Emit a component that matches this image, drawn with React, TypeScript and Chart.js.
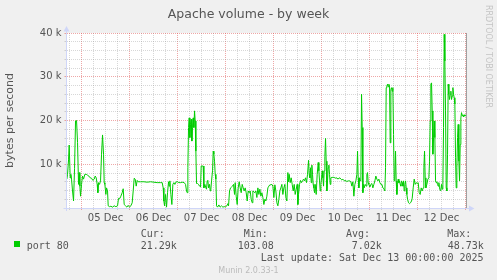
import React, { useEffect, useRef } from 'react';
import { Chart, registerables } from 'chart.js';

Chart.register(...registerables);

const chartTitle = 'Apache volume - by week';
const yAxisTitle = 'bytes per second';
const dayLabels = ['05 Dec', '06 Dec', '07 Dec', '08 Dec', '09 Dec', '10 Dec', '11 Dec', '12 Dec'];
const seriesName = 'port 80';
const statHeaders = ['Cur:', 'Min:', 'Avg:', 'Max:'];
const statValues = ['21.29k', '103.08', '7.02k', '48.73k'];
const lastUpdate = 'Last update: Sat Dec 13 00:00:00 2025';
const footerMark = 'Munin 2.0.33-1';
const sideMark = 'RRDTOOL / TOBI OETIKER';

// hours since 05 Dec 00:00
const hours = [
  -7.32, -6.98, -6.48, -6.15, -5.65, -5.32, -4.98, -4.48, -3.98, -3.48, -2.98, -2.48, -1.98, -1.48, -1.15, -0.82, -0.48,
  0.02, 0.52, 1.02, 1.68, 2.35, 3.02, 3.68, 4.35, 5.02, 5.68, 6.35, 6.85, 7.35, 7.85, 8.18, 8.52, 9.02, 9.52, 10.02,
  10.52, 11.02, 11.35, 11.68, 12.18, 12.52, 13.02, 13.35, 14.02, 14.68, 15.52, 16.35, 17.18, 18.02, 18.52, 19.18, 19.68,
  20.35, 20.85,
  21.35, 22.02, 22.68, 23.35, 24.02, 24.68, 25.35, 25.85, 26.35, 26.85, 27.35, 27.85, 28.35, 29.52, 31.18, 32.85, 34.52,
  36.18, 37.85, 39.52, 40.35, 40.85, 41.18, 41.52, 42.02, 42.52, 43.02, 43.52, 43.85, 44.18, 44.68, 45.18, 45.68, 46.18,
  46.68, 47.35, 48.02, 48.68, 49.52,
  50.35, 51.35, 52.02, 52.52, 52.85, 53.18, 53.52, 53.85, 54.18, 54.52, 54.85, 55.18, 55.52, 55.85, 56.18, 56.52, 56.85,
  57.18, 57.52, 58.02, 58.52, 59.02, 59.52, 59.85, 60.35, 60.85, 61.18, 61.68, 62.18, 62.52, 62.85, 63.18, 63.52, 64.02,
  64.35, 64.68, 65.02, 65.52, 65.85, 66.18, 66.52, 66.85, 67.18, 67.52, 68.02, 68.68, 69.35, 70.02, 70.68, 71.35, 72.02,
  72.68, 73.18, 73.52, 74.02, 74.52, 75.02, 75.52, 76.02, 76.52, 76.85, 77.35, 77.85, 78.35, 78.85,
  79.35, 79.85, 80.35, 80.85, 81.35, 81.85, 82.35, 82.85, 83.35, 83.85, 84.35, 84.85, 85.35, 85.68, 86.18, 86.68, 87.18,
  87.68, 88.18, 88.68, 89.18, 89.68, 90.18, 90.68, 91.18, 91.68, 92.18, 92.68, 93.18, 93.68, 94.18, 94.68, 95.18, 95.68,
  96.18, 96.68, 97.18, 97.68, 98.18, 98.68, 99.18, 99.68, 100.18, 100.68, 101.18, 101.68, 102.18, 102.68, 103.18, 103.52,
  103.85, 104.35, 104.85, 105.35, 105.85, 106.35, 106.85, 107.35, 107.85,
  108.18, 108.52, 109.02, 109.52, 110.02, 110.52, 111.02, 111.52, 112.02, 112.52, 113.02, 113.52, 113.85, 114.18, 114.52,
  114.85, 115.18, 115.52, 115.85, 116.18, 116.52, 116.85, 117.35, 117.85, 118.35, 118.68, 119.02, 119.35, 119.68, 120.02,
  120.35, 120.68, 121.02, 121.35, 121.68, 122.02, 122.35, 122.68, 123.02, 123.35, 123.68, 124.02, 124.35, 124.68, 125.18,
  125.68, 126.18, 126.68, 127.18, 127.68, 128.18, 128.68, 129.18, 129.68, 130.18, 130.68, 131.18, 131.68, 132.18, 132.68,
  133.18, 133.68, 134.18, 134.68, 135.18, 135.68, 136.18, 136.68,
  137.18, 137.68, 138.02, 138.35, 138.68, 139.02, 139.35, 139.68, 140.02, 140.35, 140.68, 141.02, 141.35, 141.85, 142.35,
  142.68, 143.02, 143.35, 143.68, 144.18, 144.68, 145.18, 145.68, 146.18, 146.68, 147.18, 147.68, 148.18, 148.68, 149.18,
  149.68, 150.18, 150.68, 151.18, 151.68, 152.02, 152.35, 152.68, 153.02, 153.35, 153.68, 154.02, 154.35, 154.68, 155.02,
  155.35, 155.68, 156.02, 156.35, 156.68, 157.02, 157.35, 157.68, 158.02, 158.35, 158.68, 159.02, 159.35, 159.68, 160.02,
  160.35, 160.68, 161.02, 161.35, 161.68, 162.02, 162.35, 162.68, 163.02, 163.52, 164.02, 164.52, 165.02, 165.35,
  165.85, 166.35, 166.85, 167.35, 167.85, 168.35, 168.85, 169.35, 169.85, 170.35, 170.85, 171.18, 171.52, 171.85, 172.18,
  172.68, 173.18, 173.68, 174.02, 174.35, 174.68, 175.02, 175.35, 175.68, 176.02, 176.35, 176.68, 177.02, 177.35, 177.68,
  178.02, 178.35, 178.68, 179.02, 179.35, 179.68, 180.02, 180.35, 180.68, 181.02, 181.35, 181.68, 182.02, 182.35, 182.68,
  183.02, 183.35, 183.68, 184.02, 184.35, 184.68, 185.02, 185.35, 185.68, 186.02, 186.35, 186.68, 187.02, 187.35, 187.68,
  188.02, 188.35, 188.68, 189.02, 189.35, 189.68, 190.02, 190.35, 190.68, 191.02, 191.35, 191.68, 192.02,
];

// thousands of bytes per second
const kBytesPerSec = [
  6.6, 7.7, 11.0, 14.4, 6.9, 7.7, 6.6, 3.9, 1.6, 9.0, 19.9, 20.0, 15.0, 5.4, 8.1, 5.0, 2.7,
  5.4, 7.3, 6.6, 7.7, 7.7, 7.5, 7.3, 6.9, 6.8, 6.3, 6.6, 7.3, 6.9, 5.4, 3.5, 5.8, 5.4, 6.2, 12.3,
  16.7, 12.3, 5.8, 5.4, 3.1, 4.6, 3.9, 0.5, 0.3, 0.4, 0.2, 0.5, 0.3, 0.5, 2.2, 2.2, 2.7,
  3.5, 4.4,
  0.8, 0.5, 0.2, 0.6, 0.2, 0.5, 1.2, 3.9, 6.8, 6.6, 5.0, 6.3, 6.0, 6.0, 6.0, 5.9, 6.0,
  5.9, 5.8, 5.8, 5.8, 4.6, 1.6, 0.5, 3.1, 0.2, 3.5, 6.0, 5.0, 6.2, 3.1, 0.8, 5.4, 5.8,
  5.4, 6.0, 6.0, 5.8, 5.8,
  5.9, 5.8, 5.4, 3.9, 3.5, 9.2, 18.4, 20.6, 16.1, 19.1, 20.3, 15.3, 18.4, 20.6, 18.4, 22.2, 19.9,
  13.0, 5.6, 5.6, 5.4, 5.0, 4.8, 9.6, 9.6, 9.6, 4.6, 5.4, 4.6, 4.3, 6.2, 6.3, 4.6, 5.4,
  3.9, 4.3, 6.2, 8.5, 13.0, 12.3, 10.7, 7.7, 6.6, 0.5, 0.2, 0.7, 0.2, 0.5, 0.2, 0.3, 0.3,
  0.5, 1.0, 0.5, 3.9, 4.6, 4.8, 5.0, 5.4, 3.1, 5.8, 2.7, 0.8, 4.6, 6.0,
  4.6, 3.5, 5.4, 4.6, 3.9, 4.6, 3.5, 1.6, 3.9, 3.5, 3.9, 2.0, 1.2, 3.9, 3.7, 3.5, 3.9,
  2.4, 4.6, 3.1, 4.3, 2.7, 3.5, 2.4, 0.8, 2.0, 1.6, 2.7, 4.6, 5.0, 5.3, 5.3, 5.4, 5.0,
  2.4, 5.3, 3.9, 1.2, 0.5, 2.0, 3.9, 4.6, 5.4, 3.1, 4.6, 5.4, 2.4, 1.6, 8.1, 6.0,
  7.7, 5.8, 6.9, 5.4, 3.9, 5.4, 3.1, 4.3, 5.4,
  0.8, 3.1, 5.4, 6.3, 5.8, 6.2, 6.6, 6.2, 6.9, 5.8, 7.7, 10.9, 7.7, 6.9, 9.2,
  5.8, 9.8, 7.7, 5.4, 4.6, 3.5, 5.4, 3.1, 7.7, 10.4, 8.5, 6.2, 3.9, 5.4, 6.9,
  8.5, 6.9, 5.0, 8.5, 11.8, 15.9, 10.7, 3.9, 6.2, 9.2, 9.8, 7.7, 5.4, 6.9, 7.0,
  7.0, 7.0, 6.9, 6.8, 6.9, 6.6, 6.8, 6.9, 6.6, 6.4, 6.6, 6.3, 6.2, 6.3, 6.0,
  6.2, 6.2, 6.2, 6.0, 5.0, 6.0, 2.7, 5.4,
  6.2, 7.7, 13.0, 6.9, 4.6, 6.9, 6.2, 6.6, 26.0, 18.4, 3.5, 5.4, 4.6, 5.4, 5.0,
  7.7, 8.1, 5.8, 5.4, 4.8, 5.4, 5.6, 4.6, 5.4, 6.2, 7.3, 6.6, 6.2, 6.6, 5.8,
  5.4, 5.4, 4.6, 4.4, 3.9, 9.2, 27.5, 27.9, 28.3, 27.7, 28.3, 27.9, 14.9, 27.1, 27.5,
  26.7, 27.5, 16.8, 6.2, 6.6, 13.0, 6.2, 3.1, 5.4, 6.6, 5.8, 6.2, 5.4, 5.0, 6.2,
  5.8, 5.0, 6.2, 3.9, 5.4, 6.2, 4.6, 3.1, 2.0, 1.2, 1.0, 1.2, 1.6, 2.2,
  4.6, 6.6, 5.4, 5.8, 5.6, 5.8, 3.5, 3.1, 4.6, 3.9, 4.6, 9.2, 13.0, 6.9, 4.6,
  5.4, 6.6, 6.9, 10.7, 19.9, 28.3, 28.6, 22.2, 12.3, 16.1, 19.9, 16.1, 6.2, 5.8, 6.0,
  5.4, 5.0, 5.8, 4.6, 4.0, 4.2, 5.4, 4.3, 5.4, 18.4, 39.7, 33.6, 22.2, 4.6, 3.9,
  12.3, 28.3, 26.0, 24.8, 26.0, 26.7, 24.8, 25.6, 27.5, 26.0, 25.2, 23.8, 11.6, 4.6, 9.2,
  16.1, 19.1, 10.7, 6.2, 14.5, 20.6, 21.8, 21.1, 21.3, 20.8, 21.3, 21.0, 21.3,
];

const TEXT = '#555555';
const AXIS = '#cfd6f8';
const GRID = 'rgba(143,143,143,0.36)';
const MGRID = 'rgba(222,80,80,0.5)';
const LINE = '#00cc00';

const muninPlugin = {
  id: 'muninDecor',
  beforeDraw(chart: any) {
    const { ctx, chartArea: a, width, height } = chart;
    ctx.save();
    ctx.fillStyle = '#f0f0f0';
    ctx.fillRect(0, 0, width, height);
    ctx.fillStyle = '#ffffff';
    ctx.fillRect(a.left, a.top, a.right - a.left, a.bottom - a.top);
    ctx.restore();
  },
  afterDraw(chart: any) {
    const { ctx, chartArea: a } = chart;
    ctx.save();
    // right frame
    ctx.strokeStyle = '#a0a0a0';
    ctx.lineWidth = 1;
    ctx.beginPath();
    ctx.moveTo(a.right - 0.5, a.top);
    ctx.lineTo(a.right - 0.5, a.bottom);
    ctx.stroke();
    // axes extensions and arrows
    ctx.strokeStyle = AXIS;
    ctx.fillStyle = AXIS;
    ctx.beginPath();
    ctx.moveTo(a.left - 3, a.bottom + 0.5);
    ctx.lineTo(a.right + 3, a.bottom + 0.5);
    ctx.moveTo(a.left, a.bottom + 3);
    ctx.lineTo(a.left, a.top - 3);
    ctx.stroke();
    ctx.beginPath();
    ctx.moveTo(a.left, a.top - 7);
    ctx.lineTo(a.left - 3, a.top - 1.5);
    ctx.lineTo(a.left + 3, a.top - 1.5);
    ctx.closePath();
    ctx.fill();
    ctx.beginPath();
    ctx.moveTo(a.right + 7.5, a.bottom + 0.5);
    ctx.lineTo(a.right + 2, a.bottom - 2.5);
    ctx.lineTo(a.right + 2, a.bottom + 3.5);
    ctx.closePath();
    ctx.fill();

    // title
    ctx.fillStyle = TEXT;
    ctx.font = '12.5px "DejaVu Sans"';
    ctx.textAlign = 'center';
    ctx.textBaseline = 'alphabetic';
    ctx.fillText(chartTitle, 248.5, 17.5);

    // side watermark
    ctx.save();
    ctx.translate(488, 5);
    ctx.rotate(Math.PI / 2);
    ctx.font = '8px "DejaVu Sans"';
    ctx.fillStyle = '#c4c4c4';
    ctx.textAlign = 'left';
    ctx.textBaseline = 'middle';
    ctx.fillText(sideMark, 0, 0);
    ctx.restore();

    // legend
    ctx.fillStyle = LINE;
    ctx.fillRect(14, 241, 6, 6);
    ctx.fillStyle = TEXT;
    ctx.font = '10px "DejaVu Sans Mono"';
    ctx.textAlign = 'left';
    ctx.textBaseline = 'alphabetic';
    const headX = [140.7, 243.7, 346, 447.3];
    const valX = [140.7, 237.7, 351.7, 447.7];
    statHeaders.forEach((t, i) => ctx.fillText(t, headX[i], 237));
    ctx.fillText(seriesName, 26.7, 249);
    statValues.forEach((t, i) => ctx.fillText(t, valX[i], 249));
    ctx.textAlign = 'right';
    ctx.fillText(lastUpdate, 483.5, 261);

    ctx.font = '8px "DejaVu Sans"';
    ctx.fillStyle = '#bbbbbb';
    ctx.textAlign = 'center';
    ctx.fillText(footerMark, 248.5, 272.5);
    ctx.restore();
  },
};

export default function App() {
  const ref = useRef<HTMLCanvasElement | null>(null);

  useEffect(() => {
    document.body.style.margin = '0';
    const canvas = ref.current;
    if (!canvas) return;
    const points = hours.map((h, i) => ({ x: h, y: kBytesPerSec[i] }));
    const gridColor = (c: any) => {
      const v = c.tick ? c.tick.value : 0;
      return c.scale.axis === 'x' ? (v % 24 === 0 ? MGRID : GRID) : (v % 10 === 0 ? MGRID : GRID);
    };
    const chart = new Chart(canvas, {
      type: 'line',
      data: {
        datasets: [
          {
            label: seriesName,
            data: points,
            borderColor: LINE,
            borderWidth: 1,
            pointRadius: 0,
            tension: 0,
            fill: false,
          },
        ],
      },
      options: {
        animation: false,
        responsive: false,
        maintainAspectRatio: false,
        events: [],
        layout: { padding: { left: 0, top: 33, right: 30, bottom: 0 } },
        plugins: {
          legend: { display: false },
          tooltip: { enabled: false },
          title: { display: false },
        },
        scales: {
          x: {
            type: 'linear',
            min: -7.5,
            max: 192.75,
            afterFit: (s: any) => {
              s.height = 72;
            },
            afterBuildTicks: (s: any) => {
              const t: any[] = [];
              for (let v = -6; v <= 192; v += 6) t.push({ value: v });
              s.ticks = t;
            },
            grid: { color: gridColor, tickColor: gridColor, tickLength: 2, lineWidth: 1 },
            border: { display: true, color: AXIS, dash: [1, 1] },
            ticks: {
              autoSkip: false,
              maxRotation: 0,
              padding: 2,
              color: TEXT,
              font: { family: 'DejaVu Sans', size: 10 },
              callback: (value: any) => {
                const v = Number(value);
                if (((v % 24) + 24) % 24 === 12) {
                  const idx = (v - 12) / 24;
                  return dayLabels[idx] ?? '';
                }
                return '';
              },
            },
          },
          y: {
            min: 0,
            max: 40,
            afterFit: (s: any) => {
              s.width = 66.5;
            },
            grid: { color: gridColor, tickColor: gridColor, tickLength: 2, lineWidth: 1 },
            border: { display: true, color: AXIS, dash: [1, 1] },
            title: {
              display: true,
              text: yAxisTitle,
              color: TEXT,
              font: { family: 'DejaVu Sans', size: 11 },
              padding: { top: 4, bottom: 0 },
            },
            ticks: {
              stepSize: 2,
              autoSkip: false,
              padding: 3,
              color: TEXT,
              font: { family: 'DejaVu Sans', size: 10 },
              callback: (value: any) => {
                const v = Number(value);
                return v > 0 && v % 10 === 0 ? `${v} k` : '';
              },
            },
          },
        },
      },
      plugins: [muninPlugin],
    });
    return () => chart.destroy();
  }, []);

  return (
    <div style={{ width: 497, height: 280, position: 'relative' }}>
      <canvas ref={ref} width={497} height={280} style={{ display: 'block', width: 497, height: 280 }} />
    </div>
  );
}
